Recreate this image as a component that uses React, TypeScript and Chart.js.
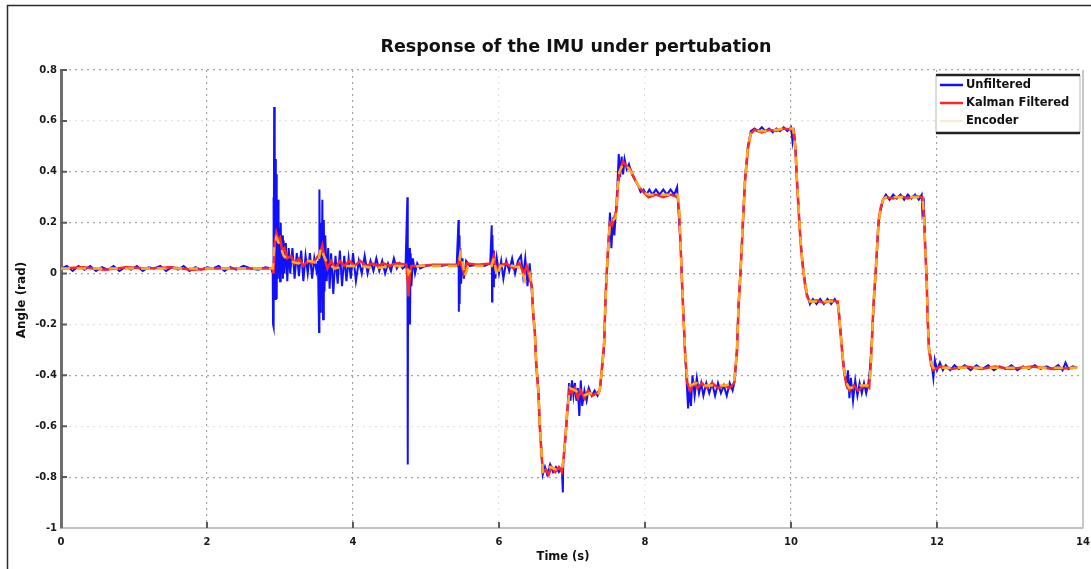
import React, { useEffect, useRef } from "react";
import { Chart, registerables } from "chart.js";

Chart.register(...registerables);

const TITLE = "Response of the IMU under pertubation";
const X_LABEL = "Time (s)";
const Y_LABEL = "Angle (rad)";
const SERIES_NAMES = ["Unfiltered", "Kalman Filtered", "Encoder"];
const X_TICKS = [0, 2, 4, 6, 8, 10, 12, 14];
const Y_TICKS = [-1, -0.8, -0.6, -0.4, -0.2, 0, 0.2, 0.4, 0.6, 0.8];

// [time (s), angle (rad)]
const unfiltered: number[][] = [
  [0, 0.02], [0.08, 0.03], [0.16, 0.01], [0.24, 0.03], [0.32, 0.015], [0.4, 0.03], [0.48, 0.01], [0.56, 0.025],
  [0.64, 0.015], [0.72, 0.03], [0.8, 0.01], [0.88, 0.025], [0.96, 0.015], [1.04, 0.03], [1.12, 0.01], [1.2, 0.025],
  [1.28, 0.02], [1.36, 0.03], [1.44, 0.01], [1.52, 0.025], [1.6, 0.015], [1.68, 0.03], [1.76, 0.01], [1.84, 0.025],
  [1.92, 0.015], [2.0, 0.025], [2.08, 0.02], [2.16, 0.03], [2.24, 0.01], [2.32, 0.025], [2.4, 0.015], [2.5, 0.03],
  [2.6, 0.02], [2.7, 0.015], [2.8, 0.025], [2.88, 0.02],
  [2.9, 0.0], [2.905, -0.2], [2.91, 0.3], [2.915, -0.21], [2.92, 0.655], [2.925, -0.05], [2.93, 0.2], [2.935, -0.1],
  [2.94, 0.45], [2.945, -0.05], [2.95, 0.39], [2.955, -0.1], [2.96, 0.2], [2.97, -0.02], [2.975, 0.29], [2.98, 0.0],
  [2.99, 0.18], [3.0, -0.03], [3.01, 0.2], [3.02, 0.0], [3.03, 0.15], [3.04, -0.02], [3.05, 0.13], [3.06, 0.0],
  [3.08, 0.12], [3.1, -0.03], [3.12, 0.1], [3.14, 0.0], [3.17, 0.1], [3.2, -0.02], [3.23, 0.08], [3.26, -0.01],
  [3.29, 0.09], [3.32, -0.03], [3.35, 0.07], [3.38, 0.0], [3.41, 0.08], [3.44, -0.02], [3.47, 0.06], [3.5, 0.01],
  [3.52, 0.05], [3.535, -0.23], [3.54, 0.33], [3.55, -0.15], [3.56, 0.2], [3.57, -0.1], [3.58, 0.29], [3.59, -0.18],
  [3.6, 0.21], [3.61, -0.07], [3.62, 0.15], [3.64, -0.03], [3.66, 0.1], [3.68, -0.06], [3.7, 0.08], [3.73, -0.08],
  [3.76, 0.07], [3.79, -0.04], [3.82, 0.09], [3.85, -0.05], [3.88, 0.07], [3.91, -0.03], [3.94, 0.06], [3.97, -0.02],
  [4.0, 0.08], [4.04, -0.03], [4.08, 0.05], [4.12, 0.0], [4.16, 0.07], [4.2, 0.0], [4.24, 0.05], [4.28, 0.01],
  [4.32, 0.06], [4.36, 0.01], [4.4, 0.05], [4.44, 0.0], [4.48, 0.04], [4.52, 0.01], [4.56, 0.06], [4.6, 0.02],
  [4.64, 0.04], [4.68, 0.02], [4.72, 0.03], [4.745, 0.3], [4.75, -0.75], [4.755, 0.1], [4.76, -0.1], [4.77, 0.1],
  [4.78, -0.2], [4.79, 0.08], [4.8, -0.05], [4.82, 0.06], [4.85, 0.0], [4.88, 0.04], [4.92, 0.02], [5.0, 0.03],
  [5.1, 0.035], [5.2, 0.03], [5.3, 0.035], [5.42, 0.03], [5.445, 0.21], [5.45, -0.15], [5.455, 0.15], [5.46, -0.12],
  [5.47, 0.1], [5.48, -0.04], [5.5, 0.06], [5.52, -0.02], [5.55, 0.05], [5.6, 0.03], [5.7, 0.035], [5.8, 0.03],
  [5.88, 0.04], [5.9, 0.19], [5.905, -0.11], [5.91, 0.15], [5.92, -0.05], [5.93, 0.09], [5.95, -0.02], [5.97, 0.06],
  [6.0, 0.0], [6.03, 0.05], [6.06, -0.02], [6.1, 0.05], [6.14, 0.01], [6.18, 0.06], [6.22, 0.0], [6.26, 0.05],
  [6.3, 0.07], [6.33, -0.01], [6.36, 0.06], [6.39, -0.05], [6.42, 0.04], [6.44, -0.03],
  [6.47, -0.16], [6.49, -0.22], [6.51, -0.35], [6.54, -0.46], [6.56, -0.6], [6.58, -0.69], [6.6, -0.79], [6.63, -0.76],
  [6.66, -0.79], [6.7, -0.75], [6.74, -0.78], [6.78, -0.76], [6.82, -0.78], [6.86, -0.76], [6.875, -0.86], [6.88, -0.75],
  [6.91, -0.65], [6.94, -0.53], [6.96, -0.43], [6.98, -0.5], [7.0, -0.42], [7.02, -0.48], [7.04, -0.43], [7.06, -0.5],
  [7.08, -0.45], [7.1, -0.56], [7.12, -0.42], [7.14, -0.52], [7.17, -0.46], [7.2, -0.5], [7.23, -0.45], [7.27, -0.48],
  [7.31, -0.46], [7.35, -0.48], [7.38, -0.46], [7.41, -0.38], [7.44, -0.29], [7.46, -0.09], [7.48, 0.02], [7.5, 0.12],
  [7.52, 0.24], [7.54, 0.1], [7.56, 0.22], [7.58, 0.15], [7.6, 0.24], [7.62, 0.33], [7.64, 0.47], [7.66, 0.38],
  [7.68, 0.46], [7.7, 0.39], [7.72, 0.45], [7.75, 0.41], [7.78, 0.43], [7.82, 0.39], [7.86, 0.37], [7.9, 0.35],
  [7.94, 0.32], [7.98, 0.33], [8.02, 0.31], [8.06, 0.33], [8.1, 0.31], [8.15, 0.33], [8.2, 0.31], [8.25, 0.33],
  [8.3, 0.31], [8.35, 0.33], [8.4, 0.31], [8.44, 0.34], [8.46, 0.24], [8.49, 0.1], [8.51, -0.05], [8.53, -0.18],
  [8.55, -0.31], [8.57, -0.42], [8.59, -0.53], [8.61, -0.45], [8.63, -0.52], [8.65, -0.4], [8.68, -0.48], [8.71, -0.41],
  [8.74, -0.47], [8.77, -0.43], [8.8, -0.48], [8.84, -0.43], [8.88, -0.47], [8.92, -0.43], [8.96, -0.48], [9.0, -0.43],
  [9.04, -0.47], [9.08, -0.44], [9.12, -0.48], [9.16, -0.43], [9.2, -0.46], [9.23, -0.42], [9.26, -0.29], [9.28, -0.13],
  [9.31, 0.02], [9.34, 0.2], [9.37, 0.37], [9.41, 0.5], [9.45, 0.56], [9.5, 0.57], [9.55, 0.56], [9.6, 0.575],
  [9.65, 0.56], [9.7, 0.57], [9.75, 0.555], [9.8, 0.57], [9.85, 0.56], [9.9, 0.575], [9.95, 0.56], [10.0, 0.575],
  [10.02, 0.52], [10.04, 0.57], [10.06, 0.5], [10.08, 0.38], [10.1, 0.28], [10.12, 0.18], [10.14, 0.1], [10.16, 0.04],
  [10.19, -0.03], [10.22, -0.08], [10.26, -0.12], [10.3, -0.1], [10.35, -0.12], [10.4, -0.1], [10.45, -0.12], [10.5, -0.1],
  [10.55, -0.12], [10.6, -0.1], [10.64, -0.12], [10.66, -0.16], [10.68, -0.23], [10.71, -0.33], [10.73, -0.38], [10.76, -0.43],
  [10.78, -0.38], [10.8, -0.49], [10.82, -0.41], [10.85, -0.5], [10.88, -0.42], [10.91, -0.48], [10.94, -0.43], [10.97, -0.47],
  [11.0, -0.43], [11.03, -0.47], [11.06, -0.43], [11.08, -0.38], [11.11, -0.26], [11.13, -0.13], [11.16, 0.0], [11.18, 0.1],
  [11.2, 0.2], [11.23, 0.25], [11.26, 0.29], [11.3, 0.31], [11.35, 0.29], [11.4, 0.31], [11.45, 0.295], [11.5, 0.31],
  [11.55, 0.29], [11.6, 0.31], [11.65, 0.295], [11.7, 0.31], [11.75, 0.29], [11.79, 0.31], [11.8, 0.24], [11.82, 0.27],
  [11.84, 0.1], [11.86, -0.03], [11.87, -0.16], [11.89, -0.29], [11.92, -0.34], [11.95, -0.41], [11.97, -0.34], [12.0, -0.38],
  [12.04, -0.35], [12.08, -0.38], [12.12, -0.36], [12.18, -0.38], [12.24, -0.36], [12.3, -0.375], [12.38, -0.36], [12.46, -0.38],
  [12.54, -0.36], [12.62, -0.375], [12.7, -0.36], [12.78, -0.38], [12.86, -0.365], [12.94, -0.375], [13.02, -0.36], [13.1, -0.38],
  [13.18, -0.365], [13.26, -0.375], [13.34, -0.36], [13.42, -0.375], [13.5, -0.365], [13.58, -0.375], [13.66, -0.36], [13.72, -0.38],
  [13.76, -0.35], [13.8, -0.375], [13.86, -0.365], [13.92, -0.37],
];

const kalmanFiltered: number[][] = [
  [0, 0.02], [0.3, 0.025], [0.6, 0.015], [0.9, 0.025], [1.2, 0.02], [1.5, 0.025], [1.8, 0.015], [2.1, 0.02],
  [2.4, 0.02], [2.7, 0.02], [2.9, 0.02], [2.91, 0.0], [2.93, 0.12], [2.95, 0.16], [2.98, 0.13], [3.0, 0.14],
  [3.03, 0.09], [3.06, 0.1], [3.1, 0.06], [3.15, 0.07], [3.2, 0.04], [3.26, 0.06], [3.32, 0.03], [3.38, 0.05],
  [3.44, 0.04], [3.5, 0.06], [3.55, 0.08], [3.58, 0.11], [3.61, 0.06], [3.65, 0.02], [3.7, 0.05], [3.76, 0.02],
  [3.82, 0.05], [3.88, 0.03], [3.95, 0.05], [4.02, 0.03], [4.1, 0.05], [4.18, 0.03], [4.26, 0.04], [4.34, 0.03],
  [4.42, 0.04], [4.5, 0.03], [4.6, 0.04], [4.73, 0.035], [4.75, -0.03], [4.76, -0.09], [4.78, 0.0], [4.8, 0.03],
  [4.9, 0.03], [5.1, 0.035], [5.3, 0.035], [5.44, 0.035], [5.46, 0.06], [5.49, 0.03], [5.52, 0.0], [5.56, 0.04],
  [5.7, 0.035], [5.9, 0.04], [5.93, 0.07], [5.96, 0.01], [6.0, 0.03], [6.1, 0.04], [6.2, 0.02], [6.28, 0.04],
  [6.34, 0.0], [6.38, 0.03], [6.42, -0.02],
  [6.45, -0.05], [6.47, -0.17], [6.49, -0.23], [6.51, -0.36], [6.54, -0.47], [6.56, -0.61], [6.58, -0.7], [6.6, -0.78],
  [6.64, -0.77], [6.68, -0.79], [6.72, -0.76], [6.77, -0.78], [6.82, -0.76], [6.86, -0.78], [6.88, -0.74], [6.91, -0.64],
  [6.94, -0.52], [6.97, -0.45], [7.0, -0.47], [7.04, -0.45], [7.08, -0.49], [7.12, -0.46], [7.17, -0.49], [7.22, -0.46],
  [7.28, -0.48], [7.34, -0.47], [7.38, -0.46], [7.41, -0.37], [7.44, -0.27], [7.46, -0.09], [7.48, 0.03], [7.5, 0.13],
  [7.52, 0.2], [7.55, 0.19], [7.58, 0.22], [7.61, 0.25], [7.63, 0.35], [7.66, 0.41], [7.7, 0.44], [7.75, 0.42],
  [7.8, 0.41], [7.86, 0.37], [7.92, 0.34], [7.98, 0.32], [8.05, 0.3], [8.15, 0.31], [8.25, 0.3], [8.35, 0.31],
  [8.45, 0.3], [8.47, 0.23], [8.49, 0.09], [8.51, -0.06], [8.53, -0.19], [8.55, -0.32], [8.58, -0.43], [8.62, -0.46],
  [8.67, -0.43], [8.72, -0.45], [8.78, -0.43], [8.85, -0.45], [8.92, -0.43], [9.0, -0.45], [9.08, -0.44], [9.16, -0.45],
  [9.22, -0.43], [9.26, -0.31], [9.28, -0.14], [9.31, 0.01], [9.34, 0.19], [9.37, 0.36], [9.41, 0.49], [9.45, 0.55],
  [9.5, 0.565], [9.6, 0.555], [9.7, 0.565], [9.8, 0.56], [9.9, 0.57], [10.03, 0.565], [10.06, 0.49], [10.08, 0.37],
  [10.1, 0.27], [10.12, 0.17], [10.14, 0.09], [10.16, 0.03], [10.19, -0.04], [10.22, -0.09], [10.26, -0.11], [10.35, -0.105],
  [10.45, -0.115], [10.55, -0.105], [10.64, -0.11], [10.66, -0.17], [10.68, -0.24], [10.71, -0.34], [10.73, -0.39], [10.76, -0.44],
  [10.8, -0.46], [10.86, -0.44], [10.92, -0.46], [11.0, -0.44], [11.07, -0.45], [11.09, -0.37], [11.11, -0.25], [11.13, -0.12],
  [11.16, 0.01], [11.18, 0.11], [11.2, 0.21], [11.23, 0.26], [11.26, 0.29], [11.3, 0.3], [11.4, 0.295], [11.5, 0.305],
  [11.6, 0.295], [11.7, 0.305], [11.8, 0.3], [11.82, 0.23], [11.84, 0.09], [11.86, -0.04], [11.87, -0.17], [11.89, -0.3],
  [11.92, -0.36], [11.95, -0.38], [12.05, -0.365], [12.2, -0.375], [12.4, -0.365], [12.6, -0.375], [12.8, -0.365], [13.0, -0.375],
  [13.3, -0.365], [13.6, -0.375], [13.92, -0.37],
];

const encoder: number[][] = [
  [0, 0.02], [2.9, 0.02], [2.92, 0.1], [2.95, 0.14], [3.0, 0.11], [3.05, 0.07], [3.12, 0.05], [3.25, 0.04],
  [3.4, 0.05], [3.52, 0.04], [3.56, 0.1], [3.6, 0.07], [3.65, 0.04], [3.75, 0.02], [3.9, 0.03], [4.1, 0.03],
  [4.3, 0.02], [4.5, 0.03], [4.74, 0.03], [4.76, 0.0], [4.8, 0.02], [4.9, 0.03], [5.2, 0.03], [5.45, 0.03],
  [5.47, 0.08], [5.5, 0.05], [5.53, -0.01], [5.58, 0.03], [5.9, 0.03], [5.93, 0.06], [5.97, -0.01], [6.02, 0.03],
  [6.2, 0.03], [6.3, 0.02], [6.36, -0.03], [6.42, 0.0], [6.45, -0.04], [6.47, -0.16], [6.49, -0.22], [6.51, -0.35],
  [6.54, -0.46], [6.56, -0.6], [6.58, -0.69], [6.6, -0.78], [6.65, -0.78], [6.7, -0.76], [6.78, -0.77], [6.86, -0.77],
  [6.88, -0.74], [6.91, -0.65], [6.94, -0.53], [6.97, -0.45], [7.05, -0.46], [7.15, -0.48], [7.25, -0.47], [7.35, -0.48],
  [7.38, -0.46], [7.41, -0.38], [7.44, -0.28], [7.46, -0.1], [7.48, 0.02], [7.5, 0.12], [7.52, 0.2], [7.56, 0.21],
  [7.6, 0.22], [7.62, 0.33], [7.65, 0.4], [7.7, 0.43], [7.76, 0.42], [7.83, 0.39], [7.9, 0.35], [7.97, 0.32],
  [8.05, 0.31], [8.2, 0.31], [8.35, 0.31], [8.45, 0.31], [8.47, 0.24], [8.49, 0.1], [8.51, -0.05], [8.53, -0.18],
  [8.55, -0.31], [8.58, -0.42], [8.62, -0.44], [8.7, -0.43], [8.8, -0.44], [8.95, -0.44], [9.1, -0.44], [9.22, -0.43],
  [9.26, -0.3], [9.28, -0.13], [9.31, 0.02], [9.34, 0.2], [9.37, 0.37], [9.41, 0.5], [9.45, 0.55], [9.5, 0.56],
  [9.7, 0.56], [9.9, 0.57], [10.03, 0.57], [10.06, 0.5], [10.08, 0.38], [10.1, 0.28], [10.12, 0.18], [10.14, 0.1],
  [10.16, 0.04], [10.19, -0.03], [10.22, -0.08], [10.26, -0.11], [10.45, -0.11], [10.64, -0.11], [10.66, -0.16], [10.68, -0.23],
  [10.71, -0.33], [10.73, -0.38], [10.76, -0.43], [10.8, -0.45], [10.95, -0.44], [11.07, -0.44], [11.09, -0.38], [11.11, -0.26],
  [11.13, -0.13], [11.16, 0.0], [11.18, 0.1], [11.2, 0.2], [11.23, 0.25], [11.26, 0.29], [11.3, 0.3], [11.55, 0.3],
  [11.8, 0.3], [11.82, 0.24], [11.84, 0.1], [11.86, -0.03], [11.87, -0.16], [11.89, -0.29], [11.92, -0.35], [11.95, -0.37],
  [12.2, -0.37], [12.6, -0.37], [13.0, -0.37], [13.5, -0.37], [13.92, -0.37],
];

const COLORS = { unfiltered: "#1010ff", kalman: "#ff2626", encoder: "#ffab1f", encoderLegend: "#f4eed2" };
const FONT = "'DejaVu Sans', sans-serif";

const toPoints = (arr: number[][]) => arr.map(([x, y]) => ({ x, y }));

const strongY = [0.8, 0.4, 0.2, 0, -0.4, -0.8];
const strongX = [2, 4, 10, 12];

const decorPlugin = {
  id: "decor",
  beforeDraw(chart: any) {
    const { ctx, width, height } = chart;
    ctx.save();
    ctx.fillStyle = "#ffffff";
    ctx.fillRect(0, 0, width, height);
    ctx.restore();
  },
  afterDraw(chart: any) {
    const { ctx, chartArea: ca } = chart;
    const xs = chart.scales.x;
    const ys = chart.scales.y;
    ctx.save();
    // outer frame
    ctx.strokeStyle = "#2a2a2a";
    ctx.lineWidth = 1.5;
    ctx.strokeRect(7.5, 5.5, 1200, 700);
    // right edge of the axes box
    ctx.strokeStyle = "#c8c8c8";
    ctx.lineWidth = 2;
    ctx.beginPath();
    ctx.moveTo(ca.right, ca.top);
    ctx.lineTo(ca.right, ca.bottom);
    ctx.stroke();
    // inward tick marks
    ctx.strokeStyle = "#5a5a5a";
    ctx.lineWidth = 2;
    ctx.beginPath();
    Y_TICKS.forEach((v) => {
      if (v === -1) return;
      const py = ys.getPixelForValue(v);
      ctx.moveTo(ca.left, py);
      ctx.lineTo(ca.left + 6, py);
    });
    X_TICKS.forEach((v) => {
      if (v === 0 || v === 14) return;
      const px = xs.getPixelForValue(v);
      ctx.moveTo(px, ca.bottom);
      ctx.lineTo(px, ca.bottom - 6);
    });
    ctx.stroke();
    // title
    ctx.fillStyle = "#111";
    ctx.textAlign = "center";
    ctx.textBaseline = "middle";
    ctx.font = `bold 17.5px ${FONT}`;
    ctx.fillText(TITLE, 576, 47);
    // axis titles
    ctx.font = `bold 12px ${FONT}`;
    ctx.save();
    ctx.translate(22, 300);
    ctx.rotate(-Math.PI / 2);
    ctx.fillText(Y_LABEL, 0, 0);
    ctx.restore();
    ctx.font = `bold 11.5px ${FONT}`;
    ctx.fillText(X_LABEL, 563, 557);
    // legend
    const lx = 936, ly = 75, lw = 144, lh = 58;
    ctx.fillStyle = "#fff";
    ctx.fillRect(lx, ly, lw, lh);
    ctx.strokeStyle = "#d0d0d0";
    ctx.lineWidth = 1.5;
    ctx.beginPath();
    ctx.moveTo(lx, ly);
    ctx.lineTo(lx, ly + lh);
    ctx.moveTo(lx + lw, ly);
    ctx.lineTo(lx + lw, ly + lh);
    ctx.stroke();
    ctx.strokeStyle = "#222";
    ctx.lineWidth = 2.5;
    ctx.beginPath();
    ctx.moveTo(lx, ly);
    ctx.lineTo(lx + lw, ly);
    ctx.moveTo(lx, ly + lh);
    ctx.lineTo(lx + lw, ly + lh);
    ctx.stroke();
    const legendColors = [COLORS.unfiltered, COLORS.kalman, COLORS.encoderLegend];
    ctx.font = `bold 11.5px ${FONT}`;
    ctx.textAlign = "left";
    SERIES_NAMES.forEach((name, i) => {
      const y = ly + 10 + i * 18;
      ctx.strokeStyle = legendColors[i];
      ctx.lineWidth = 2.5;
      ctx.beginPath();
      ctx.moveTo(lx + 4, y);
      ctx.lineTo(lx + 27, y);
      ctx.stroke();
      ctx.fillStyle = "#111";
      ctx.fillText(name, lx + 30, y + 0.5);
    });
    ctx.restore();
  },
};

export default function App() {
  const ref = useRef<HTMLCanvasElement | null>(null);
  useEffect(() => {
    document.body.style.margin = "0";
    const canvas = ref.current;
    if (!canvas) return;
    const chart = new Chart(canvas, {
      type: "line",
      data: {
        datasets: [
          {
            label: SERIES_NAMES[0],
            data: toPoints(unfiltered),
            borderColor: COLORS.unfiltered,
            borderWidth: 2,
            pointRadius: 0,
            tension: 0,
            order: 3,
          },
          {
            label: SERIES_NAMES[1],
            data: toPoints(kalmanFiltered),
            borderColor: COLORS.kalman,
            borderWidth: 2.5,
            pointRadius: 0,
            tension: 0,
            order: 2,
          },
          {
            label: SERIES_NAMES[2],
            data: toPoints(encoder),
            borderColor: COLORS.encoder,
            borderWidth: 2.5,
            borderDash: [9, 7],
            pointRadius: 0,
            tension: 0,
            order: 1,
          },
        ],
      },
      options: {
        animation: false,
        responsive: false,
        devicePixelRatio: 1,
        layout: { padding: { left: 0, top: 70, right: 8, bottom: 0 } },
        plugins: { legend: { display: false }, title: { display: false }, tooltip: { enabled: false } },
        scales: {
          x: {
            type: "linear",
            min: 0,
            max: 14,
            afterBuildTicks: (s: any) => {
              s.ticks = X_TICKS.map((v) => ({ value: v }));
            },
            afterFit: (s: any) => {
              s.height = 41;
              s.paddingRight = 0;
              s.paddingLeft = 0;
            },
            ticks: {
              autoSkip: false,
              maxRotation: 0,
              padding: 8,
              color: "#1a1a1a",
              font: { family: FONT, weight: "bold", size: 10 },
              callback: (v: any) => String(v),
            },
            grid: {
              drawTicks: false,
              lineWidth: 1.2,
              color: (c: any) => {
                const v = c.tick ? c.tick.value : null;
                if (v === 0 || v === 14) return "rgba(0,0,0,0)";
                return strongX.includes(v) ? "#a4a4a4" : "#e2e2e2";
              },
            },
            border: { color: "#c2c2c2", width: 2, dash: [2, 4] },
          },
          y: {
            type: "linear",
            min: -1,
            max: 0.8,
            afterBuildTicks: (s: any) => {
              s.ticks = Y_TICKS.map((v) => ({ value: v }));
            },
            afterFit: (s: any) => {
              s.width = 61;
              s.paddingTop = 0;
              s.paddingBottom = 0;
            },
            ticks: {
              autoSkip: false,
              padding: 4,
              color: "#1a1a1a",
              font: { family: FONT, weight: "bold", size: 10 },
              callback: (v: any) => String(Math.round(v * 10) / 10),
            },
            grid: {
              drawTicks: false,
              lineWidth: 1.2,
              color: (c: any) => {
                const v = c.tick ? Math.round(c.tick.value * 10) / 10 : null;
                if (v === -1) return "rgba(0,0,0,0)";
                return strongY.includes(v as number) ? "#a4a4a4" : "#e2e2e2";
              },
            },
            border: { color: "#6e6e6e", width: 3, dash: [2, 4] },
          },
        },
      },
      plugins: [decorPlugin],
    } as any);
    return () => chart.destroy();
  }, []);
  return <canvas ref={ref} width={1091} height={569} style={{ display: "block", width: 1091, height: 569 }} />;
}
